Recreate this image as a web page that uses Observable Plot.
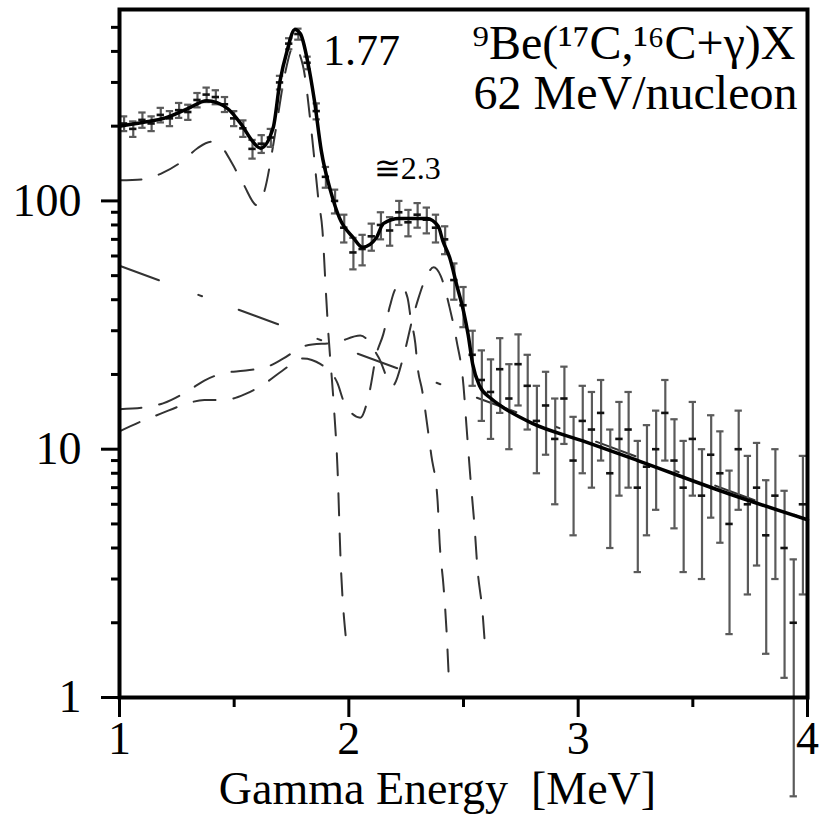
<!DOCTYPE html>
<html>
<head>
<meta charset="utf-8">
<script src="https://cdn.jsdelivr.net/npm/d3@7"></script>
<script src="https://cdn.jsdelivr.net/npm/@observablehq/plot@0.6"></script>
<style>
  html, body { margin: 0; padding: 0; background: #fff; }
  #chart svg { display: block; }
</style>
</head>
<body>
<div id="chart"></div>
<script>
// ---------- data ----------
// measured spectrum (bin centres in MeV, counts, symmetric errors)
const energy = [1.02,1.06,1.10,1.14,1.18,1.22,1.26,1.30,1.34,1.38,1.42,1.46,1.50,1.54,1.58,1.62,1.66,1.70,1.74,1.78,
  1.82,1.86,1.90,1.94,1.98,2.02,2.06,2.10,2.14,2.18,2.22,2.26,2.30,2.34,2.38,2.42,2.46,2.50,2.54,2.58,
  2.62,2.66,2.70,2.74,2.78,2.82,2.86,2.90,2.94,2.98,3.02,3.06,3.10,3.14,3.18,3.22,3.26,3.30,3.34,3.38,
  3.42,3.46,3.50,3.54,3.58,3.62,3.66,3.70,3.74,3.78,3.82,3.86,3.90,3.94,3.98];
const counts = [205,195,212,205,222,215,232,228,255,268,262,245,215,196,162,170,180,300,430,470,
  360,230,125,100,78,62,64,72,80,76,90,82,88,84,78,70,48,38,24,19,
  17,21,16,22,18,13,15,11,16,9,13,12,14,8,11,12,7,8.5,10,14,
  9,7,11,6.5,9.5,8,5,10,6,7,4.5,6.5,4,2.0,6];
const errors = [14,14,15,14,15,15,16,16,17,18,17,17,15,15,14,14,15,19,22,24,
  21,17,12,11,10,9,9,9,10,10,10,10,10,10,10,9,8,7,6,6,
  6,7,6,7,6,5,5.5,5,5.5,4.5,5,5,5,4,4.5,5,3.8,4,4.3,5,
  4.2,3.8,4.5,3.5,4.2,3.8,3.2,4.3,3.4,3.6,3,3.5,2.8,1.6,3.4];

// total fit (solid line)
const fitE = [1.0,1.1,1.2,1.3,1.38,1.47,1.53,1.58,1.615,1.67,1.70,1.73,1.765,1.79,1.82,1.85,1.88,1.92,1.96,2.02,
  2.06,2.12,2.15,2.22,2.34,2.39,2.41,2.44,2.47,2.50,2.52,2.54,2.57,2.62,2.66,2.80,3.02,3.26,3.66,4.0];
const fitV = [200,207,216,236,253,236,204,174,163,197,304,400,490,469,366,253,159,110,85,71,
  65,71,81,85,85,79,69,59,46,36,29,22,18,16,15,12.7,10.8,9.0,6.6,5.2];

// response function of the 1.77 MeV line (dashed)
const r1E = [1.0,1.1,1.19,1.28,1.34,1.40,1.45,1.49,1.54,1.60,1.63,1.68,1.72,1.76,1.80,1.84,1.868,1.885,1.90,1.91,1.933,1.951,1.964,1.986];
const r1V = [121,122,130,146,163,173,163,142,117,96,108,190,320,420,350,180,100,76,43,30,15.7,8.2,3.6,1.78];

// response function of the lower line of the ~2.3 doublet (dashed)
const r2E = [1.0,1.1,1.18,1.28,1.37,1.46,1.55,1.645,1.71,1.80,1.877,1.95,1.98,2.05,2.09,2.12,2.15,2.18,2.20,2.225,
  2.256,2.27,2.29,2.30,2.32,2.36,2.387,2.396,2.413,2.426,2.435];
const r2V = [11.8,13.0,13.9,15.1,15.8,15.8,16.7,18.7,20.7,23.2,22,18.5,15.4,13.4,17,24,29,38,43.6,46,
  40.7,33.6,26.6,21.4,17.2,9.4,6.2,4.2,2.8,1.86,1.25];

// response function of the upper line of the ~2.3 doublet (dashed)
const r3E = [1.0,1.1,1.19,1.30,1.37,1.46,1.54,1.645,1.715,1.81,1.95,2.05,2.13,2.19,2.24,2.278,2.304,2.34,2.37,2.40,
  2.44,2.47,2.50,2.513,2.531,2.548,2.561,2.583,2.596];
const r3V = [14.5,14.7,15.3,17.2,18.9,20.3,20.7,21.5,23.2,26.1,27,28.7,23.4,18,24,33.6,40.7,50,54,50,
  37,27.3,18,12.4,7.5,4.9,3.3,2.2,1.5];

// exponential background (dash-dot)
const bgE = [1.0, 4.0];
const bgV = [54.8, 5.2];

// ticks and texts
const yTicks = [1, 10, 100];
const yMinor = [2,3,4,5,6,7,8,9,20,30,40,50,60,70,80,90,200,300,400,500];
const xTicks = [1, 2, 3, 4];
const xMinor = [1.5, 2.5, 3.5];
const title1 = "\u2079Be(\u00b9\u2077C,\u00b9\u2076C+\u03b3)X";
const title2 = "62 MeV/nucleon";
const xLabel = "Gamma Energy\u00a0\u00a0[MeV]";
const peak1 = [{x: 1.77, text: "1.77"}];
const peak2 = [{x: 2.3, text: "\u22452.3"}];

// ---------- tables ----------
const spectrum = energy.map((e, i) => ({E: e, v: counts[i], lo: Math.max(counts[i] - errors[i], 0.3), hi: counts[i] + errors[i]}));
const toRows = (es, vs) => es.map((e, i) => ({E: e, v: vs[i]}));
const fit = toRows(fitE, fitV);
const r1 = toRows(r1E, r1V);
const r2 = toRows(r2E, r2V);
const r3 = toRows(r3E, r3V);
const bg = toRows(bgE, bgV);

const capHalf = 0.016;
const barColor = "#5a5a5a";
const dashStyle = {x: "E", y: "v", stroke: "#333", strokeWidth: 2, strokeDasharray: "22,18", curve: "monotone-x"};

const marks = [
  Plot.line(bg, {x: "E", y: "v", stroke: "#333", strokeWidth: 2, strokeDasharray: "42,42,4,39"}),
  Plot.line(r1, dashStyle),
  Plot.line(r2, dashStyle),
  Plot.line(r3, dashStyle),
  // error bars
  Plot.ruleX(spectrum, {x: "E", y1: "lo", y2: "hi", stroke: barColor, strokeWidth: 2.2}),
  Plot.ruleY(spectrum, {y: "lo", x1: d => d.E - capHalf, x2: d => d.E + capHalf, stroke: barColor, strokeWidth: 2.2}),
  Plot.ruleY(spectrum, {y: "hi", x1: d => d.E - capHalf, x2: d => d.E + capHalf, stroke: barColor, strokeWidth: 2.2}),
  Plot.ruleY(spectrum, {y: "v", x1: d => d.E - capHalf, x2: d => d.E + capHalf, stroke: "#111", strokeWidth: 2.6}),
  // fit
  Plot.line(fit, {x: "E", y: "v", stroke: "#000", strokeWidth: 3.5, curve: "monotone-x"}),
  // frame + axes
  Plot.frame({stroke: "#000", strokeWidth: 4}),
  Plot.axisY(yTicks, {tickSize: 18, tickPadding: 20, strokeWidth: 3, fontSize: 46, tickFormat: d => String(d), label: null}),
  Plot.axisY(yMinor, {tickSize: 8, strokeWidth: 3, tickFormat: () => "", label: null}),
  Plot.axisX(xTicks, {tickSize: 20, tickPadding: 4, strokeWidth: 3, fontSize: 46, tickFormat: d => String(d), label: null}),
  Plot.axisX(xMinor, {tickSize: 10, strokeWidth: 3, tickFormat: () => "", label: null}),
  // texts
  Plot.text(peak1, {x: "x", text: "text", frameAnchor: "top", textAnchor: "start", lineAnchor: "bottom", dx: 27, dy: 55, fontSize: 44}),
  Plot.text(peak2, {x: "x", text: "text", frameAnchor: "top", textAnchor: "start", lineAnchor: "bottom", dx: -44, dy: 169, fontSize: 32}),
  Plot.text([title1], {frameAnchor: "top-right", textAnchor: "end", lineAnchor: "bottom", dx: -12, dy: 49, fontSize: 48}),
  Plot.text([title2], {frameAnchor: "top-right", textAnchor: "end", lineAnchor: "bottom", dx: -10, dy: 99, fontSize: 48}),
  Plot.text([xLabel], {frameAnchor: "bottom", textAnchor: "middle", lineAnchor: "bottom", dx: -26, dy: 106, fontSize: 46})
];

const chart = Plot.plot({
  width: 819,
  height: 814,
  marginLeft: 119,
  marginRight: 12,
  marginTop: 9,
  marginBottom: 117,
  style: {fontFamily: "'Liberation Serif', 'DejaVu Serif', serif", color: "#000", background: "#fff", overflow: "visible"},
  x: {domain: [1, 4]},
  y: {type: "log", domain: [1, 590]},
  marks
});
document.getElementById("chart").appendChild(chart);
</script>
</body>
</html>
